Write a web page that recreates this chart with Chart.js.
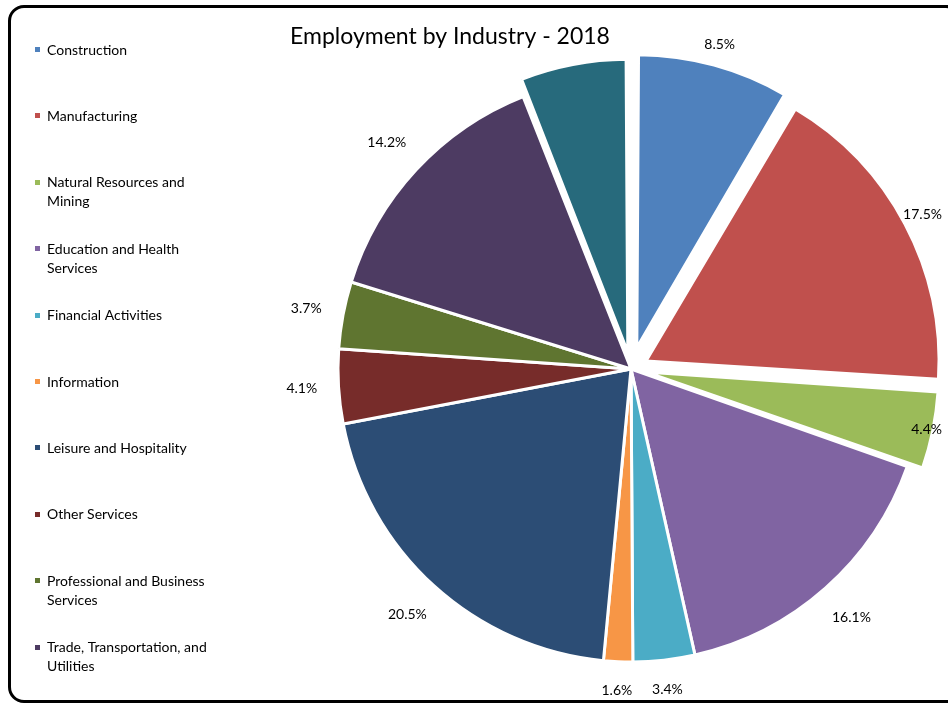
<!DOCTYPE html>
<html>
<head>
<meta charset="utf-8">
<title>Employment by Industry - 2018</title>
<script src="https://cdn.jsdelivr.net/npm/chart.js@4.4.1/dist/chart.umd.min.js"></script>
<style>
  html, body { margin: 0; padding: 0; background: #fff; overflow: hidden; }
  #wrap { position: relative; width: 948px; height: 703px; overflow: hidden; }
  #frame {
    position: absolute; left: 8px; top: 5px; width: 954px; height: 698px;
    box-sizing: border-box; border: 3px solid #000; border-radius: 16px;
  }
  #chart { position: absolute; left: 0; top: 0; }
</style>
</head>
<body>
<div id="wrap">
  <div id="frame"></div>
  <canvas id="chart" width="948" height="703"></canvas>
</div>
<script>
(function(){
  const industries = [
    'Construction',
    'Manufacturing',
    'Natural Resources and Mining',
    'Education and Health Services',
    'Financial Activities',
    'Information',
    'Leisure and Hospitality',
    'Other Services',
    'Professional and Business Services',
    'Trade, Transportation, and Utilities',
    'Government'
  ];
  const shares = [8.5, 17.5, 4.4, 16.1, 3.4, 1.6, 20.5, 4.1, 3.7, 14.2, 6.0];
  const sliceColors = [
    '#4F81BD', '#C0504D', '#9BBB59', '#8064A2', '#4BACC6', '#F79646',
    '#2C4D75', '#772C2A', '#5F7530', '#4D3B62', '#276A7C'
  ];
  // slices whose percentage is not printed
  const unlabeled = ['Government'];
  const chartTitle = 'Employment by Industry - 2018';

  const FONT = "Lato, 'Open Sans', sans-serif";
  const LABEL_GAP = 21;
  const LABEL_MAX_X = 942;

  // Chart.js enlarges an offset slice's radius; keep all slices the same size
  const evenRadius = {
    id: 'evenRadius',
    afterDatasetUpdate(chart, args){
      args.meta.data.forEach(arc => {
        const off = (arc.options.offset || 0) / 4;
        const fix = 1 - Math.sin(Math.min(Math.PI, arc.circumference || 0));
        arc.outerRadius -= off * fix;
      });
    }
  };

  const valueLabels = {
    id: 'valueLabels',
    afterDatasetsDraw(chart){
      const ctx = chart.ctx;
      const meta = chart.getDatasetMeta(0);
      ctx.save();
      ctx.font = '14px ' + FONT;
      ctx.fillStyle = '#000';
      ctx.textAlign = 'center';
      ctx.textBaseline = 'middle';
      meta.data.forEach((arc, i) => {
        if (unlabeled.includes(industries[i])) return;
        const text = shares[i].toFixed(1) + '%';
        const mid = (arc.startAngle + arc.endAngle) / 2;
        const ux = Math.cos(mid), uy = Math.sin(mid);
        const w = ctx.measureText(text).width, h = 14;
        let d = arc.outerRadius + (arc.options.offset || 0) / 4 + LABEL_GAP
              + Math.abs(ux) * w / 2 + Math.abs(uy) * h / 2;
        let x = arc.x + ux * d;
        if (ux > 0 && x + w / 2 > LABEL_MAX_X) {
          d -= (x + w / 2 - LABEL_MAX_X) / ux;
        }
        x = arc.x + ux * d;
        const y = arc.y + uy * d;
        ctx.fillText(text, x, y);
      });
      ctx.restore();
    }
  };

  function wrapText(ctx, text, maxWidth){
    const words = text.split(' ');
    const lines = [];
    let line = '';
    words.forEach(wd => {
      const test = line ? line + ' ' + wd : wd;
      if (line && ctx.measureText(test).width > maxWidth) {
        lines.push(line);
        line = wd;
      } else {
        line = test;
      }
    });
    if (line) lines.push(line);
    return lines;
  }

  const sideLegend = {
    id: 'sideLegend',
    afterDraw(chart){
      const ctx = chart.ctx;
      const colors = chart.data.datasets[0].backgroundColor;
      ctx.save();
      ctx.font = '14px ' + FONT;
      ctx.fillStyle = '#000';
      ctx.textAlign = 'left';
      ctx.textBaseline = 'middle';
      chart.data.labels.forEach((lab, i) => {
        const y0 = 50 + i * 66.4;
        ctx.fillStyle = colors[i];
        ctx.fillRect(35, Math.round(y0) - 3, 5, 5);
        ctx.fillStyle = '#000';
        wrapText(ctx, lab, 170).forEach((ln, k) => {
          ctx.fillText(ln, 47, y0 + k * 19);
        });
      });
      // title
      ctx.font = '23px ' + FONT;
      ctx.textAlign = 'center';
      ctx.fillText(chartTitle, 450, 37);
      ctx.restore();
    }
  };

  new Chart(document.getElementById('chart'), {
    type: 'pie',
    data: {
      labels: industries,
      datasets: [{
        data: shares,
        backgroundColor: sliceColors,
        borderColor: '#fff',
        borderWidth: 3,
        offset: [88, 68, 60, 0, 0, 0, 0, 0, 0, 0, 68]
      }]
    },
    options: {
      responsive: false,
      devicePixelRatio: 1,
      animation: false,
      radius: 293,
      layout: { padding: { left: 320, right: 6, top: 40, bottom: 5 } },
      plugins: {
        legend: { display: false },
        title: { display: false },
        tooltip: { enabled: false }
      },
      events: []
    },
    plugins: [evenRadius, valueLabels, sideLegend]
  });
})();
</script>
</body>
</html>
